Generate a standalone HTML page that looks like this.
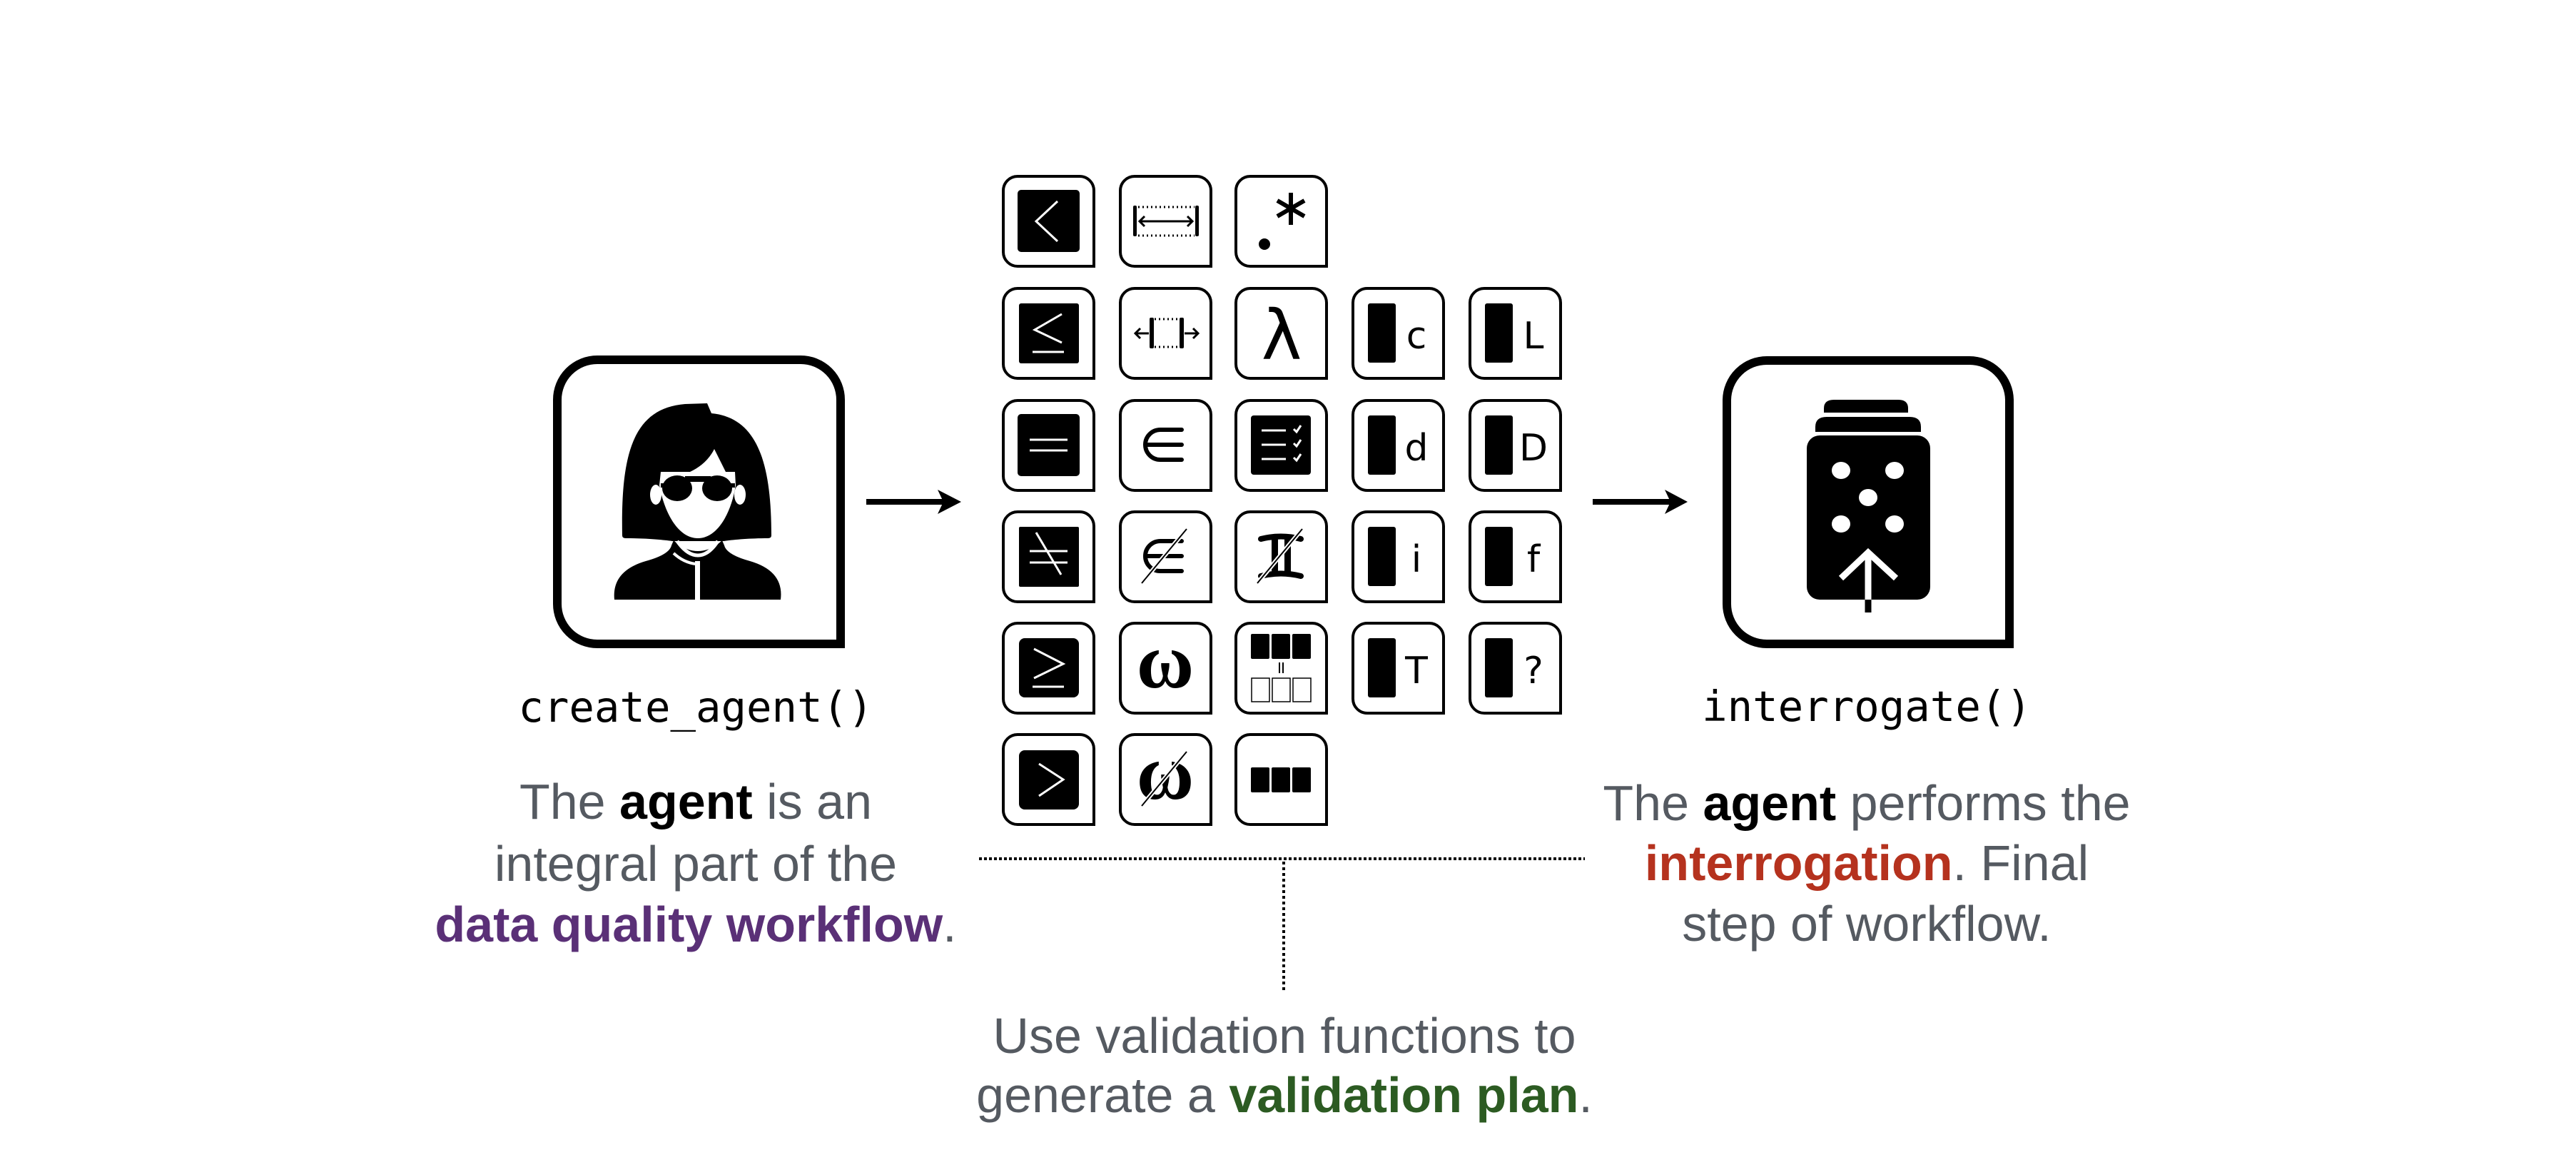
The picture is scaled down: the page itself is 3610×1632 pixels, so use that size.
<!DOCTYPE html>
<html><head><meta charset="utf-8"><style>
html,body{margin:0;padding:0;background:#fff;}
svg{display:block}
.p{font-family:"Liberation Sans",Arial,sans-serif;font-size:70px;fill:#555a61;}
.b{font-weight:bold}
.m{font-family:"DejaVu Sans Mono","Liberation Mono",monospace;font-size:59px;fill:#000}
.l{font-family:"DejaVu Sans","Liberation Sans",sans-serif;font-size:52px;fill:#000}
</style></head><body>
<svg width="3610" height="1632" viewBox="0 0 3610 1632" xmlns="http://www.w3.org/2000/svg">
<defs>
<path id="tile" d="M2,22 A20,20 0 0 1 22,2 H109 A20,20 0 0 1 129,22 V128 H22 A20,20 0 0 1 2,108 Z" fill="#fff" stroke="#000" stroke-width="4"/>
<g id="elem"><path d="M88,43 H58 A21,21 0 0 0 58,85 H88 M40,64 H88" fill="none" stroke="#000" stroke-width="6" stroke-linecap="round"/></g>
<g id="omega"><text x="65" y="92" text-anchor="middle" font-family="Liberation Serif,serif" font-weight="bold" font-size="110">ω</text></g>
<g id="slash"><line x1="95" y1="26" x2="32" y2="102" stroke="#fff" stroke-width="6"/><line x1="95" y1="26" x2="32" y2="102" stroke="#000" stroke-width="2"/></g>
</defs>

<!-- agent box -->
<path d="M781,560 A56,56 0 0 1 837,504 H1122 A56,56 0 0 1 1178,560 V902 H837 A56,56 0 0 1 781,846 Z" fill="none" stroke="#000" stroke-width="12"/>
<!-- person -->
<path d="M861,840 Q857,800 905,786 Q938,777 941,764 L944,757 Q960,772 978,772 Q996,772 1012,757 L1015,764 Q1018,777 1051,786 Q1099,800 1094,840 Z" fill="#000"/>
<path d="M872,750 C870,640 885,572 960,566 L991,565 L997,579 C1062,585 1081,650 1081,750 Q1081,754 1076,754 C1050,754 1028,756 1014,758 L942,758 C928,756 905,754 877,754 Q872,754 872,750 Z" fill="#000"/>
<path d="M924,680 C932,722 952,754 978,754 C1004,754 1024,722 1031,680 L1030,661 L1017,661 L1001,629 C993,645 980,655 967,661 L926,661 Z" fill="#fff"/>
<ellipse cx="919" cy="693" rx="8" ry="14" fill="#fff"/>
<ellipse cx="1037" cy="693" rx="8" ry="14" fill="#fff"/>
<ellipse cx="949" cy="684" rx="21" ry="18" fill="#000"/>
<ellipse cx="1005" cy="684" rx="21" ry="18" fill="#000"/>
<rect x="960" y="667" width="36" height="8" fill="#000"/>
<rect x="926" y="677" width="6" height="6" fill="#000"/><rect x="1024" y="677" width="6" height="6" fill="#000"/>
<path d="M949,758 Q963,778 978,778 Q993,778 1006,758" fill="none" stroke="#fff" stroke-width="5"/>
<path d="M944,775 Q958,788 975,790" fill="none" stroke="#fff" stroke-width="4"/>
<rect x="974" y="786" width="7" height="56" fill="#fff"/>

<!-- arrow 1 -->
<line x1="1214" y1="703" x2="1330" y2="703" stroke="#000" stroke-width="8"/>
<path d="M1347,703 L1314,686 L1322,703 L1314,720 Z" fill="#000"/>
<!-- arrow 2 -->
<line x1="2232" y1="703" x2="2348" y2="703" stroke="#000" stroke-width="8"/>
<path d="M2365,703 L2333,686 L2341,703 L2333,720 Z" fill="#000"/>

<!-- interrogate box -->
<path d="M2420,560 A56,56 0 0 1 2476,505 H2760 A56,56 0 0 1 2816,560 V902 H2476 A56,56 0 0 1 2420,846 Z" fill="none" stroke="#000" stroke-width="12"/>
<path d="M2556,578 V572 Q2556,560 2570,560 H2660 Q2674,560 2674,572 V578 Z" fill="#000"/>
<path d="M2544,605 V598 Q2544,584 2560,584 H2676 Q2692,584 2692,598 V605 Z" fill="#000"/>
<rect x="2532" y="610" width="173" height="230" rx="18" fill="#000"/>
<ellipse cx="2580" cy="659" rx="13" ry="12" fill="#fff"/>
<ellipse cx="2655" cy="659" rx="13" ry="12" fill="#fff"/>
<ellipse cx="2618" cy="697" rx="13" ry="12" fill="#fff"/>
<ellipse cx="2580" cy="734" rx="13" ry="12" fill="#fff"/>
<ellipse cx="2655" cy="734" rx="13" ry="12" fill="#fff"/>
<line x1="2618" y1="772" x2="2618" y2="840" stroke="#fff" stroke-width="9"/>
<line x1="2618" y1="840" x2="2618" y2="858" stroke="#000" stroke-width="9"/>
<path d="M2580,810 L2618,774 L2657,810" fill="none" stroke="#fff" stroke-width="9"/>

<!-- labels -->
<text class="m" x="975" y="1011" text-anchor="middle">create_agent()</text>
<text class="m" x="2616" y="1010" text-anchor="middle">interrogate()</text>

<text class="p" x="975" y="1147" text-anchor="middle">The <tspan class="b" fill="#000">agent</tspan> is an</text>
<text class="p" x="975" y="1234" text-anchor="middle">integral part of the</text>
<text class="p" x="975" y="1319" text-anchor="middle"><tspan class="b" fill="#5a3077">data quality workflow</tspan>.</text>

<text class="p" x="2616" y="1149" text-anchor="middle">The <tspan class="b" fill="#000">agent</tspan> performs the</text>
<text class="p" x="2616" y="1233" text-anchor="middle"><tspan class="b" fill="#b5321e">interrogation</tspan>. Final</text>
<text class="p" x="2616" y="1318" text-anchor="middle">step of workflow.</text>

<text class="p" x="1800" y="1475" text-anchor="middle">Use validation functions to</text>
<text class="p" x="1800" y="1558" text-anchor="middle">generate a <tspan class="b" fill="#2c5b22">validation plan</tspan>.</text>

<!-- dotted connectors -->
<line x1="1372" y1="1203" x2="2221" y2="1203" stroke="#000" stroke-width="4" stroke-dasharray="4 3"/>
<line x1="1799" y1="1207" x2="1799" y2="1388" stroke="#000" stroke-width="4" stroke-dasharray="4 4"/>

<!-- tiles row 1 -->
<g transform="translate(1404,245)"><use href="#tile"/>
<rect x="22" y="21" width="87" height="87" rx="5"/>
<polyline points="78,37 48,65 78,93" fill="none" stroke="#fff" stroke-width="3"/></g>
<g transform="translate(1568,245)"><use href="#tile"/>
<rect x="20" y="43" width="5" height="43" rx="2"/><rect x="107" y="43" width="5" height="43" rx="2"/>
<line x1="27" y1="45" x2="106" y2="45" stroke="#000" stroke-width="3" stroke-dasharray="2 4"/>
<line x1="27" y1="85" x2="106" y2="85" stroke="#000" stroke-width="3" stroke-dasharray="2 4"/>
<line x1="30" y1="65" x2="102" y2="65" stroke="#000" stroke-width="3"/>
<polyline points="36,58 29,65 36,72" fill="none" stroke="#000" stroke-width="3"/>
<polyline points="96,58 103,65 96,72" fill="none" stroke="#000" stroke-width="3"/></g>
<g transform="translate(1730,245)"><use href="#tile"/>
<circle cx="42" cy="97" r="8"/>
<g stroke="#000" stroke-width="6"><line x1="79" y1="25" x2="79" y2="70"/><line x1="60" y1="36" x2="98" y2="58"/><line x1="60" y1="58" x2="98" y2="36"/></g></g>

<!-- row 2 -->
<g transform="translate(1404,402)"><use href="#tile"/>
<rect x="24" y="23" width="84" height="84" rx="3"/>
<polyline points="84,38 46,60 84,78" fill="none" stroke="#fff" stroke-width="3"/>
<line x1="43" y1="91" x2="87" y2="91" stroke="#fff" stroke-width="3"/></g>
<g transform="translate(1568,402)"><use href="#tile"/>
<rect x="43" y="43" width="6" height="43" rx="2"/><rect x="85" y="43" width="6" height="43" rx="2"/>
<line x1="50" y1="45" x2="84" y2="45" stroke="#000" stroke-width="3" stroke-dasharray="2 4"/>
<line x1="50" y1="84" x2="84" y2="84" stroke="#000" stroke-width="3" stroke-dasharray="2 4"/>
<line x1="24" y1="65" x2="42" y2="65" stroke="#000" stroke-width="3"/>
<polyline points="30,58 23,65 30,72" fill="none" stroke="#000" stroke-width="3"/>
<line x1="92" y1="65" x2="110" y2="65" stroke="#000" stroke-width="3"/>
<polyline points="104,58 111,65 104,72" fill="none" stroke="#000" stroke-width="3"/></g>
<g transform="translate(1730,402)"><use href="#tile"/>
<text x="66" y="101" text-anchor="middle" font-family="DejaVu Sans,sans-serif" font-size="96">λ</text></g>
<g transform="translate(1894,402)"><use href="#tile"/><rect x="23" y="23" width="39" height="83" rx="3"/><text class="l" x="91" y="86" text-anchor="middle">c</text></g>
<g transform="translate(2058,402)"><use href="#tile"/><rect x="23" y="23" width="39" height="83" rx="3"/><text class="l" x="91" y="86" text-anchor="middle">L</text></g>

<!-- row 3 -->
<g transform="translate(1404,559)"><use href="#tile"/>
<rect x="22" y="21" width="87" height="87" rx="5"/>
<line x1="39" y1="57" x2="92" y2="57" stroke="#fff" stroke-width="3"/><line x1="39" y1="72" x2="92" y2="72" stroke="#fff" stroke-width="3"/></g>
<g transform="translate(1568,559)"><use href="#tile"/><use href="#elem"/></g>
<g transform="translate(1730,559)"><use href="#tile"/>
<rect x="23" y="23" width="84" height="83" rx="4"/>
<g stroke="#fff" stroke-width="3"><line x1="38" y1="44" x2="72" y2="44"/><line x1="38" y1="64" x2="72" y2="64"/><line x1="38" y1="84" x2="72" y2="84"/></g>
<g fill="none" stroke="#fff" stroke-width="3"><polyline points="83,42 87,46 93,37"/><polyline points="83,62 87,66 93,57"/><polyline points="83,82 87,86 93,77"/></g></g>
<g transform="translate(1894,559)"><use href="#tile"/><rect x="23" y="23" width="39" height="83" rx="3"/><text class="l" x="91" y="86" text-anchor="middle">d</text></g>
<g transform="translate(2058,559)"><use href="#tile"/><rect x="23" y="23" width="39" height="83" rx="3"/><text class="l" x="91" y="86" text-anchor="middle">D</text></g>

<!-- row 4 -->
<g transform="translate(1404,715)"><use href="#tile"/>
<rect x="24" y="23" width="84" height="84" rx="2"/>
<g stroke="#fff" stroke-width="3"><line x1="39" y1="57" x2="92" y2="57"/><line x1="39" y1="73" x2="92" y2="73"/><line x1="48" y1="31" x2="83" y2="90"/></g></g>
<g transform="translate(1568,715)"><use href="#tile"/><use href="#elem"/><use href="#slash"/></g>
<g transform="translate(1730,715)"><use href="#tile"/>
<path d="M37,40 Q65,33 93,40" fill="none" stroke="#000" stroke-width="8" stroke-linecap="round"/>
<path d="M37,92 Q65,85 93,92" fill="none" stroke="#000" stroke-width="8" stroke-linecap="round"/>
<rect x="52" y="40" width="9" height="50"/><rect x="70" y="40" width="9" height="50"/>
<use href="#slash"/></g>
<g transform="translate(1894,715)"><use href="#tile"/><rect x="23" y="23" width="39" height="83" rx="3"/><text class="l" x="91" y="86" text-anchor="middle">i</text></g>
<g transform="translate(2058,715)"><use href="#tile"/><rect x="23" y="23" width="39" height="83" rx="3"/><text class="l" x="91" y="86" text-anchor="middle">f</text></g>

<!-- row 5 -->
<g transform="translate(1404,871)"><use href="#tile"/>
<rect x="24" y="23" width="84" height="83" rx="8"/>
<polyline points="45,38 86,59 45,79" fill="none" stroke="#fff" stroke-width="3"/>
<line x1="43" y1="91" x2="87" y2="91" stroke="#fff" stroke-width="3"/></g>
<g transform="translate(1568,871)"><use href="#tile"/><use href="#omega"/></g>
<g transform="translate(1730,871)"><use href="#tile"/>
<rect x="23" y="17" width="26" height="35" rx="2"/><rect x="52" y="17" width="26" height="35" rx="2"/><rect x="81" y="17" width="26" height="35" rx="2"/>
<line x1="63" y1="57" x2="63" y2="72" stroke="#000" stroke-width="2"/><line x1="68" y1="57" x2="68" y2="72" stroke="#000" stroke-width="2"/>
<g fill="none" stroke="#000" stroke-width="1.5"><rect x="24" y="79" width="25" height="33"/><rect x="53" y="79" width="25" height="33"/><rect x="82" y="79" width="25" height="33"/></g></g>
<g transform="translate(1894,871)"><use href="#tile"/><rect x="23" y="23" width="39" height="83" rx="3"/><text class="l" x="91" y="86" text-anchor="middle">T</text></g>
<g transform="translate(2058,871)"><use href="#tile"/><rect x="23" y="23" width="39" height="83" rx="3"/><text class="l" x="91" y="86" text-anchor="middle">?</text></g>

<!-- row 6 -->
<g transform="translate(1404,1027)"><use href="#tile"/>
<rect x="24" y="24" width="84" height="83" rx="8"/>
<polyline points="52,43 86,65 52,88" fill="none" stroke="#fff" stroke-width="3"/></g>
<g transform="translate(1568,1027)"><use href="#tile"/><use href="#omega"/><use href="#slash"/></g>
<g transform="translate(1730,1027)"><use href="#tile"/>
<rect x="23" y="48" width="26" height="35" rx="2"/><rect x="52" y="48" width="26" height="35" rx="2"/><rect x="81" y="48" width="26" height="35" rx="2"/></g>
</svg>
</body></html>
